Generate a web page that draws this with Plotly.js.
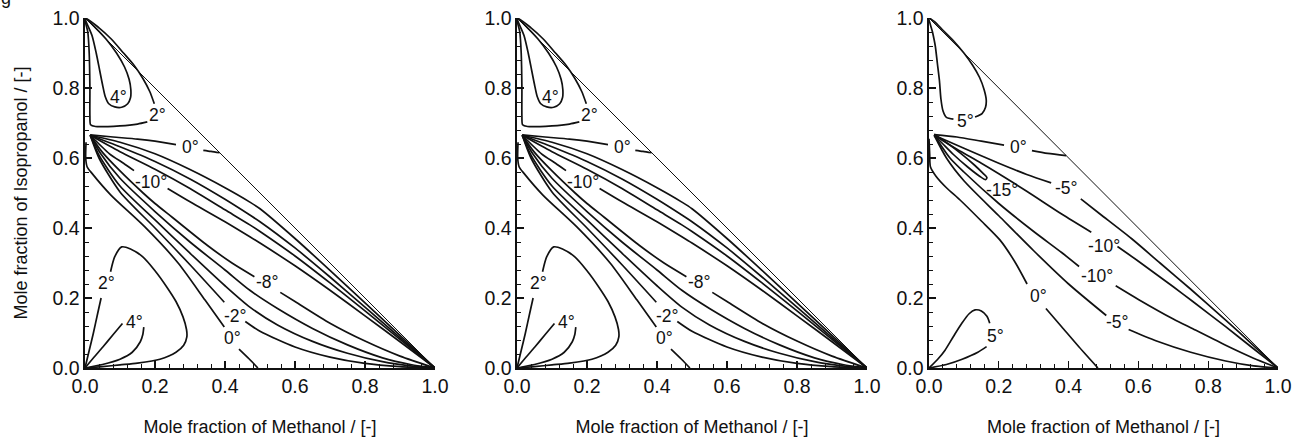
<!DOCTYPE html>
<html>
<head>
<meta charset="utf-8">
<script src="https://cdn.plot.ly/plotly-3.0.1.min.js"></script>
<style>html,body{margin:0;padding:0;background:#fff;}#chart{width:1295px;height:440px;}</style>
</head>
<body>
<div id="chart"></div>
<script>
// ---------- shared texts / ticks ----------
const tickVals = [0, 0.2, 0.4, 0.6, 0.8, 1.0];
const tickText = ['0.0', '0.2', '0.4', '0.6', '0.8', '1.0'];
const xTitle = 'Mole fraction of Methanol / [-]';
const yTitle = 'Mole fraction of Isopropanol / [-]';
const edgeX = [0, 1];
const edgeY = [1, 0];

// ---------- panels 1 and 2 (same contour map) ----------
const aTop4X = [0, 0.02, 0.032, 0.042, 0.05, 0.058, 0.068, 0.085, 0.105, 0.122, 0.13, 0.131, 0.126, 0.113, 0.09, 0.06, 0.03, 0];
const aTop4Y = [1, 0.95, 0.9, 0.85, 0.81, 0.775, 0.755, 0.746, 0.745, 0.755, 0.772, 0.795, 0.825, 0.86, 0.9, 0.94, 0.972, 1];
const aTop2X = [0.198, 0.185, 0.165, 0.14, 0.11, 0.075, 0.04, 0, 0.008, 0.012, 0.014, 0.014, 0.016, 0.03, 0.1, 0.15, 0.178];
const aTop2Y = [0.755, 0.79, 0.828, 0.865, 0.9, 0.94, 0.972, 1, 0.96, 0.9, 0.8, 0.72, 0.695, 0.69, 0.692, 0.697, 0.703];
const aTop0X = [0.015, 0.08, 0.15, 0.2, 0.26, null, 0.338, 0.36, 0.385];
const aTop0Y = [0.666, 0.66, 0.654, 0.648, 0.638, null, 0.622, 0.619, 0.615];
const aUX = [0.015, 0.1, 0.2, 0.3, 0.4, 0.471, 0.5, 0.6, 0.7, 0.8, 0.9, 1];
const aU1Y = [0.665, 0.645, 0.612, 0.567, 0.515, 0.474, 0.455, 0.37, 0.279, 0.186, 0.093, 0];
const aU2Y = [0.665, 0.632, 0.59, 0.54, 0.482, 0.437, 0.418, 0.343, 0.26, 0.174, 0.087, 0];
const aU3Y = [0.665, 0.618, 0.568, 0.513, 0.452, 0.409, 0.39, 0.32, 0.243, 0.163, 0.082, 0];
const aU4X = [0.015, 0.07, 0.11, 0.14, null, 0.236, 0.3, 0.4, 0.471, 0.5, 0.6, 0.7, 0.8, 0.9, 1];
const aU4Y = [0.665, 0.612, 0.585, 0.564, null, 0.513, 0.475, 0.418, 0.375, 0.357, 0.292, 0.222, 0.149, 0.075, 0];
const aL8X = [0.015, 0.05, 0.1, 0.166, 0.2, 0.25, 0.35, 0.42, 0.484, null, 0.558, 0.6, 0.7, 0.8, 0.9, 1];
const aL8Y = [0.665, 0.616, 0.563, 0.5, 0.47, 0.43, 0.35, 0.3, 0.261, null, 0.216, 0.19, 0.128, 0.077, 0.034, 0];
const aL6X = [0.015, 0.045, 0.1, 0.2, 0.3, 0.4, 0.471, 0.55, 0.65, 0.75, 0.85, 0.93, 1];
const aL6Y = [0.665, 0.612, 0.542, 0.447, 0.36, 0.28, 0.222, 0.17, 0.113, 0.066, 0.029, 0.01, 0];
const aL4X = [0.015, 0.04, 0.1, 0.2, 0.3, 0.4, 0.471, 0.55, 0.65, 0.75, 0.85, 0.93, 1];
const aL4Y = [0.665, 0.608, 0.52, 0.423, 0.328, 0.235, 0.174, 0.123, 0.076, 0.042, 0.018, 0.006, 0];
const aL2X = [0.015, 0.04, 0.1, 0.2, 0.3, 0.398, null, 0.458, 0.5, 0.6, 0.7, 0.8, 0.9, 1];
const aL2Y = [0.665, 0.6, 0.503, 0.4, 0.295, 0.188, null, 0.133, 0.105, 0.06, 0.031, 0.013, 0.004, 0];
const aL0X = [0.003, 0.002, 0.006, 0.02, 0.074, 0.171, 0.266, 0.343, 0.398, null, 0.44, 0.47, 0.494];
const aL0Y = [0.645, 0.6, 0.575, 0.556, 0.494, 0.403, 0.3, 0.194, 0.117, null, 0.054, 0.025, 0];
const aBot2X = [0, 0.012, 0.024, 0.036, 0.046, null, 0.073, 0.085, 0.105, 0.13, 0.166, 0.2, 0.234, 0.26, 0.28, 0.29, 0.291, 0.282, 0.26, 0.214, 0.15, 0.1, 0.05, 0];
const aBot2Y = [0, 0.05, 0.1, 0.155, 0.2, null, 0.275, 0.318, 0.346, 0.34, 0.317, 0.278, 0.231, 0.19, 0.146, 0.11, 0.089, 0.065, 0.045, 0.025, 0.014, 0.009, 0.004, 0];
const aBot4X = [0, 0.025, 0.051, 0.08, 0.107, null, 0.168, 0.165, 0.158, 0.135, 0.1, 0.05, 0];
const aBot4Y = [0, 0.03, 0.06, 0.095, 0.127, null, 0.117, 0.095, 0.075, 0.045, 0.025, 0.01, 0];
const aLabText = ['4°', '2°', '0°', '-10°', '-8°', '-2°', '0°', '2°', '4°'];
const aLabX = [0.097, 0.208, 0.3, 0.189, 0.521, 0.43, 0.42, 0.062, 0.14];
const aLabY = [0.774, 0.722, 0.632, 0.532, 0.246, 0.148, 0.085, 0.242, 0.132];

// ---------- panel 3 ----------
const cTop5X = [0.132, 0.152, 0.162, 0.164, 0.158, 0.145, 0.125, 0.1, 0.07, 0.04, 0.015, 0, 0.01, 0.018, 0.024, 0.03, 0.034, 0.04, 0.05, 0.07];
const cTop5Y = [0.717, 0.727, 0.745, 0.766, 0.795, 0.83, 0.865, 0.9, 0.935, 0.965, 0.99, 1, 0.96, 0.92, 0.87, 0.82, 0.77, 0.735, 0.716, 0.711];
const cTop0X = [0.015, 0.08, 0.15, 0.215, null, 0.295, 0.34, 0.393];
const cTop0Y = [0.667, 0.66, 0.648, 0.637, null, 0.621, 0.613, 0.607];
const cU5X = [0.015, 0.1, 0.2, 0.28, 0.35, null, 0.435, 0.49, 0.58, 0.662, 0.75, 0.85, 0.93, 1];
const cU5Y = [0.665, 0.628, 0.585, 0.553, 0.529, null, 0.483, 0.44, 0.37, 0.3, 0.225, 0.137, 0.064, 0];
const cU10X = [0.015, 0.08, 0.15, 0.2, 0.28, 0.38, 0.465, null, 0.54, 0.6, 0.7, 0.756, 0.85, 0.93, 1];
const cU10Y = [0.665, 0.625, 0.585, 0.555, 0.505, 0.44, 0.388, null, 0.347, 0.305, 0.232, 0.19, 0.118, 0.055, 0];
const cT15X = [0.015, 0.05, 0.09, 0.13, 0.155, 0.166, 0.162, 0.145, 0.11, 0.07, 0.04, 0.015];
const cT15Y = [0.668, 0.644, 0.614, 0.58, 0.556, 0.544, 0.538, 0.548, 0.575, 0.61, 0.64, 0.665];
const cL10X = [0.015, 0.06, 0.1, 0.2, 0.3, 0.38, 0.43, null, 0.535, 0.6, 0.7, 0.756, 0.85, 0.93, 1];
const cL10Y = [0.665, 0.6, 0.56, 0.47, 0.39, 0.33, 0.29, null, 0.235, 0.196, 0.14, 0.112, 0.065, 0.028, 0];
const cL5X = [0.015, 0.05, 0.1, 0.2, 0.3, 0.4, 0.508, null, 0.572, 0.65, 0.75, 0.85, 0.93, 1];
const cL5Y = [0.665, 0.6, 0.535, 0.435, 0.335, 0.24, 0.15, null, 0.11, 0.078, 0.045, 0.02, 0.006, 0];
const cL0X = [0, 0.002, 0.004, 0.02, 0.05, 0.089, 0.15, 0.203, 0.245, 0.281, null, 0.335, 0.38, 0.43, 0.484];
const cL0Y = [0.655, 0.61, 0.575, 0.548, 0.515, 0.48, 0.42, 0.366, 0.305, 0.24, null, 0.17, 0.118, 0.06, 0];
const cBot5X = [0, 0.025, 0.046, 0.07, 0.095, 0.115, 0.132, 0.15, 0.166, 0.174, null, 0.165, 0.14, 0.095, 0.05, 0];
const cBot5Y = [0, 0.025, 0.051, 0.09, 0.129, 0.155, 0.166, 0.163, 0.148, 0.128, null, 0.061, 0.045, 0.025, 0.01, 0];
const cLabText = ['5°', '0°', '-5°', '-15°', '-10°', '-10°', '-5°', '0°', '5°'];
const cLabX = [0.104, 0.257, 0.393, 0.209, 0.502, 0.482, 0.54, 0.313, 0.19];
const cLabY = [0.707, 0.632, 0.515, 0.509, 0.35, 0.262, 0.131, 0.205, 0.092];

// ---------- build ----------
const FONT = 'Liberation Sans, Arial, sans-serif';
const INK = '#111111';
const traces = [];
const annotations = [];

function curve(xs, ys, sfx, w) {
  traces.push({
    type: 'scatter', mode: 'lines', x: xs, y: ys,
    xaxis: 'x' + sfx, yaxis: 'y' + sfx,
    line: { color: INK, width: w, shape: 'spline', smoothing: 0.7 },
    connectgaps: false, hoverinfo: 'skip', showlegend: false
  });
}
function labels(texts, xs, ys, sfx) {
  texts.forEach((t, i) => annotations.push({
    text: t, x: xs[i], y: ys[i], xref: 'x' + sfx, yref: 'y' + sfx,
    showarrow: false, xanchor: 'center', yanchor: 'middle',
    font: { family: FONT, size: 17.5, color: INK }
  }));
}

const panelA = [[aTop4X, aTop4Y], [aTop2X, aTop2Y], [aTop0X, aTop0Y], [aUX, aU1Y], [aUX, aU2Y], [aUX, aU3Y], [aU4X, aU4Y],
  [aL8X, aL8Y], [aL6X, aL6Y], [aL4X, aL4Y], [aL2X, aL2Y], [aL0X, aL0Y], [aBot2X, aBot2Y], [aBot4X, aBot4Y]];
const panelC = [[cTop5X, cTop5Y], [cTop0X, cTop0Y], [cU5X, cU5Y], [cU10X, cU10Y], [cT15X, cT15Y], [cL10X, cL10Y],
  [cL5X, cL5Y], [cL0X, cL0Y], [cBot5X, cBot5Y]];

[['', panelA, aLabText, aLabX, aLabY], ['2', panelA, aLabText, aLabX, aLabY], ['3', panelC, cLabText, cLabX, cLabY]]
  .forEach(([sfx, set, lt, lx, ly]) => {
    curve(edgeX, edgeY, sfx, 1);
    set.forEach(([xs, ys]) => curve(xs, ys, sfx, 1.7));
    labels(lt, lx, ly, sfx);
  });

const W = 1295, H = 440;
const xDomains = [[85 / W, 435 / W], [517 / W, 867 / W], [929 / W, 1278 / W]];
const yDomain = [72 / H, 422 / H];

function xAxis(i) {
  return {
    domain: xDomains[i], anchor: i === 0 ? 'y' : 'y' + (i + 1), range: [0, 1],
    tickvals: tickVals, ticktext: tickText, ticks: 'inside', ticklen: 7, tickwidth: 1.2, tickcolor: INK,
    minor: { dtick: 0.04, tick0: 0, ticks: 'inside', ticklen: 4, tickwidth: 1, tickcolor: INK, showgrid: false },
    showline: true, linecolor: INK, linewidth: 1.6, showgrid: false, zeroline: false, fixedrange: true,
    tickfont: { family: FONT, size: 19.5, color: INK },
    title: { text: xTitle, font: { family: FONT, size: 18, color: INK }, standoff: 24 }
  };
}
function yAxis(i) {
  return {
    domain: yDomain, anchor: i === 0 ? 'x' : 'x' + (i + 1), range: [0, 1],
    tickvals: tickVals, ticktext: tickText, ticks: 'inside', ticklen: 7, tickwidth: 1.2, tickcolor: INK,
    minor: { dtick: 0.04, tick0: 0, ticks: 'inside', ticklen: 4, tickwidth: 1, tickcolor: INK, showgrid: false },
    showline: true, linecolor: INK, linewidth: 1.6, showgrid: false, zeroline: false, fixedrange: true,
    tickfont: { family: FONT, size: 19.5, color: INK },
    title: i === 0 ? { text: yTitle, font: { family: FONT, size: 18, color: INK }, standoff: 20 } : { text: '' }
  };
}

annotations.push({
  text: 'g', xref: 'paper', yref: 'paper', x: -0.001, y: 1.004, xanchor: 'left', yanchor: 'middle',
  showarrow: false, font: { family: FONT, size: 18, color: INK }
});

const layout = {
  width: W, height: H, margin: { l: 0, r: 0, t: 0, b: 0 },
  paper_bgcolor: '#ffffff', plot_bgcolor: '#ffffff', showlegend: false,
  font: { family: FONT, color: INK },
  xaxis: xAxis(0), yaxis: yAxis(0),
  xaxis2: xAxis(1), yaxis2: yAxis(1),
  xaxis3: xAxis(2), yaxis3: yAxis(2),
  annotations: annotations
};

Plotly.newPlot('chart', traces, layout, { staticPlot: true, displayModeBar: false });
</script>
</body>
</html>
